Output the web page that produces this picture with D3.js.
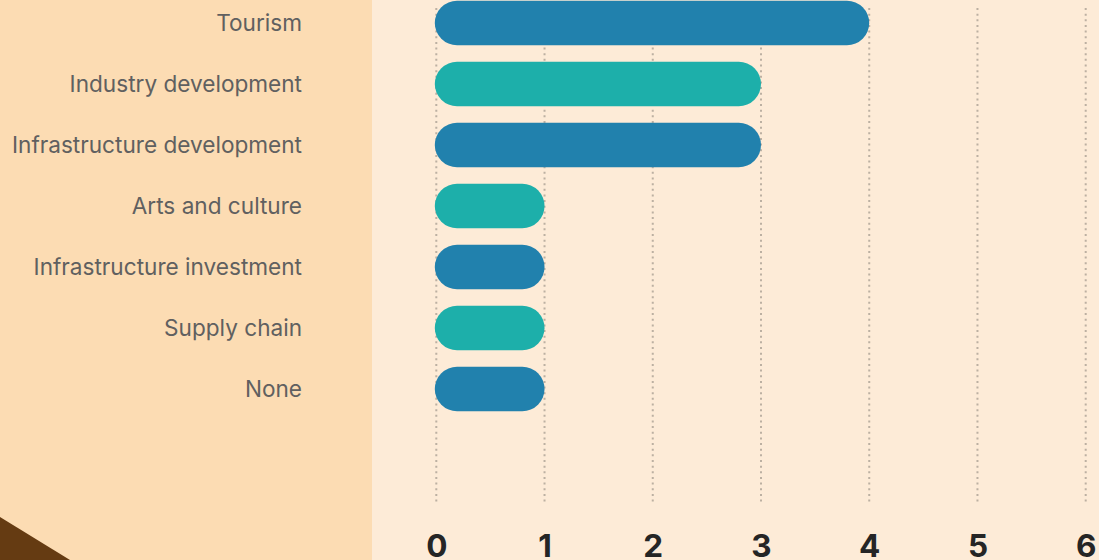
<!DOCTYPE html>
<html>
<head>
<meta charset="utf-8">
<script src="https://cdn.jsdelivr.net/npm/d3@7"></script>
<style>
  html, body { margin: 0; padding: 0; }
  body { width: 1099px; height: 560px; overflow: hidden; background: #fdebd7; }
  svg { display: block; }
</style>
</head>
<body>
<svg id="chart" width="1099" height="560"></svg>
<script>
const categories = ["Tourism", "Industry development", "Infrastructure development", "Arts and culture", "Infrastructure investment", "Supply chain", "None"];
const values = [4, 3, 3, 1, 1, 1, 1];
const barColors = ["#2181ad", "#1dafaa"];
const tickValues = [0, 1, 2, 3, 4, 5, 6];

const W = 1099, H = 560;
const svg = d3.select("#chart");

// backgrounds
svg.append("rect").attr("x", 0).attr("y", 0).attr("width", W).attr("height", H).attr("fill", "#fdebd7");
svg.append("rect").attr("x", 0).attr("y", 0).attr("width", 372).attr("height", H).attr("fill", "#fcdcb3");
svg.append("path").attr("d", "M0,517 L70,560 L0,560 Z").attr("fill", "#653b12");

const x = d3.scaleLinear().domain([0, 6]).range([436.3, 1085.7]);
const y = d3.scaleBand().domain(categories).range([-7.5, -7.5 + 61 * categories.length])
  .paddingInner(0.27).paddingOuter(0.135);

// grid lines
svg.append("g").selectAll("line").data(tickValues).join("line")
  .attr("x1", d => x(d)).attr("x2", d => x(d))
  .attr("y1", 8).attr("y2", 503)
  .attr("stroke", "#bcb0a2").attr("stroke-width", 2)
  .attr("stroke-dasharray", "2,3.65");

// bars
const bh = y.bandwidth();
svg.append("g").selectAll("rect").data(categories).join("rect")
  .attr("x", x(0) - 1.5)
  .attr("y", d => y(d))
  .attr("width", (d, i) => x(values[i]) - x(0) + 1.5)
  .attr("height", bh)
  .attr("rx", bh / 2).attr("ry", bh / 2)
  .attr("fill", (d, i) => barColors[i % 2]);

// category labels
svg.append("g").selectAll("text").data(categories).join("text")
  .attr("x", 302)
  .attr("y", d => y(d) + bh / 2)
  .attr("dy", "0.35em")
  .attr("text-anchor", "end")
  .attr("font-family", "Inter, 'Noto Sans', sans-serif")
  .attr("font-size", 22.6)
  .attr("fill", "#606060")
  .text(d => d);

// x axis
const xAxis = d3.axisBottom(x).tickValues(tickValues).tickSize(0).tickPadding(0).tickFormat(d3.format("d"));
const gx = svg.append("g").attr("transform", "translate(0,556.5)").call(xAxis);
gx.select(".domain").remove();
gx.selectAll("text")
  .attr("dy", "0")
  .attr("font-family", "Inter, 'DejaVu Sans', sans-serif")
  .attr("font-weight", 700)
  .attr("font-size", 31.5)
  .attr("fill", "#252525");
</script>
</body>
</html>
